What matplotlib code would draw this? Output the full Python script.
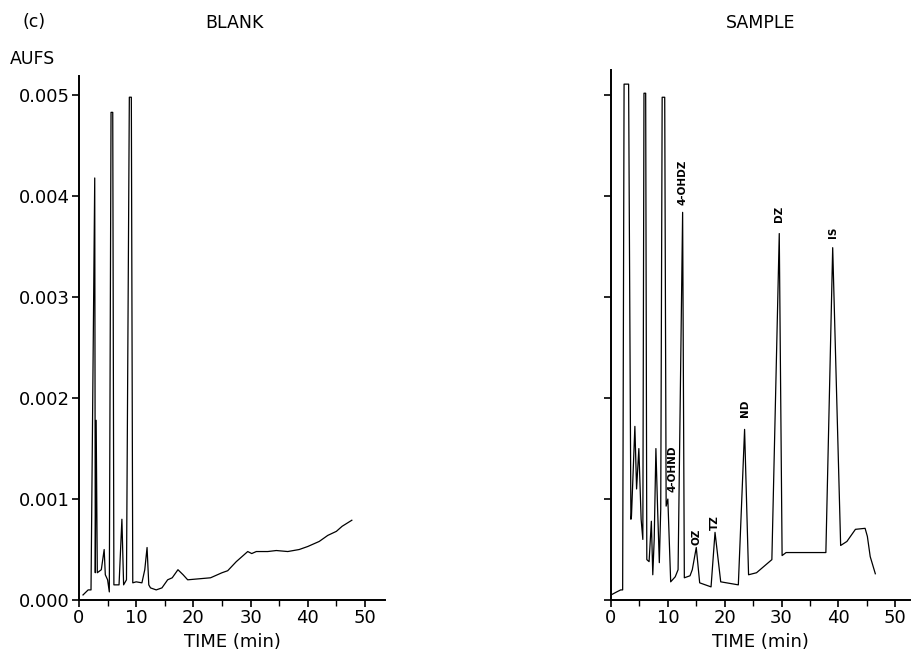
import matplotlib
matplotlib.use("Agg")
import matplotlib.pyplot as plt
from matplotlib.ticker import MultipleLocator, FormatStrFormatter

# Blank run: detector trace (time in min, absorbance in AUFS)
blank_time = [0.7, 1.6, 2.1, 2.75, 2.85, 3.0, 3.2, 3.9, 4.4, 4.6, 5.0, 5.3,
              5.6, 5.9, 6.1, 7.0, 7.5, 7.8, 8.3, 8.8, 9.15, 9.4, 10.0, 11.0,
              11.5, 11.9, 12.2, 12.5, 13.5, 14.5, 15.5, 16.3, 17.3, 18.2, 19.0,
              21.0, 23.0, 25.0, 26.0, 27.5, 29.5, 30.2, 31.0, 33.0, 34.5, 36.5,
              38.5, 40.0, 42.0, 43.5, 45.0, 46.0, 47.7]
blank_aufs = [0.00005, 0.0001, 0.0001, 0.00418, 0.00027, 0.00178, 0.00027,
              0.0003, 0.0005, 0.00025, 0.0002, 0.00008, 0.00483, 0.00483,
              0.00015, 0.00015, 0.0008, 0.00015, 0.0002, 0.00498, 0.00498,
              0.00017, 0.00018, 0.00017, 0.0003, 0.00052, 0.00015, 0.00012,
              0.0001, 0.00012, 0.0002, 0.00022, 0.0003, 0.00025, 0.0002,
              0.00021, 0.00022, 0.00027, 0.00029, 0.00038, 0.00048, 0.00046,
              0.00048, 0.00048, 0.00049, 0.00048, 0.0005, 0.00053, 0.00058,
              0.00064, 0.00068, 0.00073, 0.00079]

# Sample run
sample_time = [0.0, 1.0, 1.7, 2.05, 2.3, 3.1, 3.5, 3.6, 4.2, 4.5, 4.9, 5.3,
               5.6, 5.8, 6.1, 6.3, 6.7, 7.1, 7.35, 7.6, 7.9, 8.2, 8.5, 8.75,
               9.0, 9.45, 9.7, 10.0, 10.5, 11.3, 11.8, 12.6, 12.9, 13.9, 14.3,
               15.0, 15.6, 17.6, 18.3, 19.3, 22.4, 23.5, 24.2, 25.6, 28.3,
               29.6, 30.1, 30.8, 37.8, 39.0, 40.4, 41.5, 43.0, 44.7, 45.1, 45.6,
               46.5]
sample_aufs = [0.00005, 0.00008, 0.0001, 0.0001, 0.00511, 0.00511, 0.0008,
               0.00083, 0.00172, 0.0011, 0.0015, 0.0008, 0.0006, 0.00502,
               0.00502, 0.0004, 0.00038, 0.00078, 0.00025, 0.0006, 0.0015,
               0.0009, 0.00037, 0.0009, 0.00498, 0.00498, 0.00093, 0.001,
               0.00018, 0.00023, 0.0003, 0.00384, 0.00022, 0.00024, 0.0003,
               0.00052, 0.00017, 0.00013, 0.00067, 0.00018, 0.00015, 0.00169,
               0.00025, 0.00027, 0.0004, 0.00363, 0.00044, 0.00047, 0.00047,
               0.00349, 0.00054, 0.00058, 0.0007, 0.00071, 0.00063, 0.00043,
               0.00026]

# Peak labels on the sample trace
peak_names = ["4-OHND", "4-OHDZ", "OZ", "TZ", "ND", "DZ", "IS"]
peak_time = [10.0, 12.6, 15.0, 18.3, 23.5, 29.6, 39.0]
peak_aufs = [0.001, 0.00384, 0.00052, 0.00067, 0.00169, 0.00363, 0.00349]
label_shift = [(3, 5), (0, 5), (0, 2), (0, 2), (0, 9), (0, 8), (0, 7)]

W, H = 912, 651
fig = plt.figure(figsize=(W / 100, H / 100), dpi=100)
plt.rcParams['font.family'] = ['DejaVu Sans']

ax1 = fig.add_axes([79 / W, 51 / H, 306 / W, 524 / H])
ax2 = fig.add_axes([611 / W, 51 / H, 299 / W, 530 / H])

ax1.plot(blank_time, blank_aufs, color='black', lw=0.9)
ax2.plot(sample_time, sample_aufs, color='black', lw=0.9)

ax1.set_xlim(0, 53.5)
ax1.set_ylim(0, 0.00519)
ax2.set_xlim(0, 52.6)
ax2.set_ylim(0, 0.00525)

for ax in (ax1, ax2):
    for side in ('top', 'right'):
        ax.spines[side].set_visible(False)
    for side in ('left', 'bottom'):
        ax.spines[side].set_linewidth(1.4)
    ax.xaxis.set_major_locator(MultipleLocator(10))
    ax.xaxis.set_minor_locator(MultipleLocator(5))
    ax.yaxis.set_major_locator(MultipleLocator(0.001))
    ax.tick_params(axis='both', which='major', direction='out', length=5,
                   width=1.2, labelsize=13, pad=1.5)
    ax.tick_params(axis='x', which='minor', direction='out', length=4,
                   width=1.0)
    ax.set_xlabel('TIME (min)', fontsize=13, labelpad=4)
    ax.set_facecolor('none')

ax1.yaxis.set_major_formatter(FormatStrFormatter('%.3f'))
ax2.tick_params(axis='y', labelleft=False)

for name, t, a, off in zip(peak_names, peak_time, peak_aufs, label_shift):
    ax2.annotate(name, (t, a), xytext=off, textcoords='offset points',
                 rotation=90, ha='center', va='bottom', fontsize=7.5,
                 fontweight='bold')

fig.text(23 / W, 1 - 22 / H, '(c)', fontsize=12.5, va='center', ha='left')
fig.text(234 / W, 1 - 23 / H, 'BLANK', fontsize=12.5, va='center',
         ha='center')
fig.text(761 / W, 1 - 23 / H, 'SAMPLE', fontsize=12.5, va='center',
         ha='center')
fig.text(10 / W, 1 - 59 / H, 'AUFS', fontsize=12.5, va='center', ha='left')

fig.savefig('out.png', dpi=100)
